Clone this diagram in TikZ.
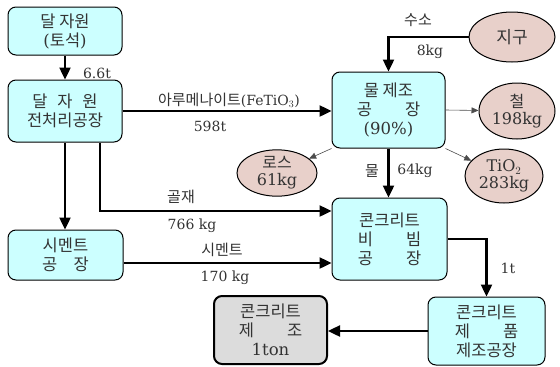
\documentclass[tikz,border=0pt]{standalone}
\usepackage{fontspec}
\setmainfont{DejaVu Serif}
\newfontfamily\kr{Noto Sans CJK KR}
\usetikzlibrary{arrows.meta}
\definecolor{boxfill}{HTML}{CCFFFF}
\definecolor{ellfill}{HTML}{E8D0CA}
\definecolor{greyfill}{HTML}{DCDCDC}
\definecolor{txt}{HTML}{333333}
\tikzset{
  box/.style={draw=black, line width=1pt, fill=boxfill, rounded corners=8pt, align=center,
    font=\fontsize{16.5}{19}\selectfont, text=txt, inner sep=0pt},
  greybox/.style={box, fill=greyfill, line width=2pt},
  ell/.style={draw=black, line width=1pt, fill=ellfill, ellipse, align=center,
    font=\fontsize{16}{17}\selectfont, text=txt, inner sep=0pt},
  lbl/.style={font=\fontsize{14}{16}\selectfont, text=txt, inner sep=0pt},
  klbl/.style={lbl, font=\kr\fontsize{15}{16}\selectfont},
  flow/.style={draw=black, line width=2.4pt, -{Triangle[length=12pt,width=11pt]}},
  thinflow/.style={draw=black!70, line width=0.6pt, -{Triangle[length=7pt,width=6pt]}}
}
\usetikzlibrary{shapes.geometric}
\begin{document}
\begin{tikzpicture}[x=1pt,y=-1pt]
\useasboundingbox (0,0) rectangle (560,367);
% boxes
\node[box, minimum width=114pt, minimum height=48pt] (src) at (65,31) {{\kr 달 자원}\\({\kr 토석})};
\node[box, minimum width=114pt, minimum height=62pt] (pre) at (65,111) {{\kr 달\hspace{0.6em}자\hspace{0.6em}원}\\{\kr 전처리공장}};
\node[box, minimum width=115pt, minimum height=50pt] (cem) at (65.5,255) {{\kr 시멘트}\\{\kr 공\hspace{1em}장}};
\node[box, minimum width=113pt, minimum height=76pt] (water) at (388.5,110) {{\kr 물 제조}\\{\kr 공\hspace{2em}장}\\(90\%)};
\node[box, minimum width=115pt, minimum height=82pt] (mix) at (389.5,239) {{\kr 콘크리트}\\{\kr 비\hspace{2em}빔}\\{\kr 공\hspace{2em}장}};
\node[box, minimum width=117pt, minimum height=68pt] (prod) at (486.5,331) {{\kr 콘크리트}\\{\kr 제\hspace{2em}품}\\{\kr 제조공장}};
\node[greybox, minimum width=113pt, minimum height=68pt] (final) at (270.5,330) {{\kr 콘크리트}\\{\kr 제\hspace{2em}조}\\1ton};
% ellipses
\node[ell, minimum width=86pt, minimum height=50pt] (earth) at (512,37) {{\kr\fontsize{17}{18}\selectfont 지구}};
\node[ell, minimum width=76pt, minimum height=56pt] (iron) at (517,111) {{\kr 철}\\198kg};
\node[ell, minimum width=78pt, minimum height=54pt] (tio2) at (504,176) {TiO$_2$\\283kg};
\node[ell, minimum width=80pt, minimum height=44pt] (loss) at (277,173) {{\kr 로스}\\61kg};
% main flows
\draw[flow] (src) -- (pre);
\node[lbl] (l66) at (97,73) {6.6t};
\draw[flow] (pre.east) -- (pre.east -| water.west);
\node[lbl] (lilm) at (229,100) {{\kr\fontsize{15}{16}\selectfont 아루메나이트}(FeTiO$_3$)};
\node[lbl] (l598) at (210,126) {598t};
\draw[flow] (earth.west) -| (water.north);
\node[klbl] (lh2) at (418,20) {수소};
\node[lbl] (l8) at (430,52) {8kg};
\draw[flow] (water.south) -- (water.south |- mix.north);
\node[klbl] (lw) at (372,171) {물};
\node[lbl] (l64) at (415,171) {64kg};
\draw[flow] (pre.south) -- (pre.south |- cem.north);
\coordinate (gstart) at ([xshift=35pt]pre.south);
\draw[flow] (gstart) |- ([yshift=28pt]mix.west);
\node[klbl] (lagg) at (181,197) {골재};
\node[lbl] (l766) at (192,226) {766 kg};
\draw[flow] ([yshift=-8pt]cem.east) -- ([yshift=-8pt]cem.east -| mix.west);
\node[klbl] (lcem) at (222,250) {시멘트};
\node[lbl] (l170) at (225,278) {170 kg};
\draw[flow] (mix.east) -| (prod.north);
\node[lbl] (l1t) at (508,268) {1t};
\draw[flow] (prod.west) -- (prod.west -| final.east);
% thin outputs
\draw[thinflow] (water.east) -- (iron);
\draw[thinflow] (water.south east) -- (tio2);
\draw[thinflow] (water.south west) -- (loss);
\end{tikzpicture}
\end{document}
